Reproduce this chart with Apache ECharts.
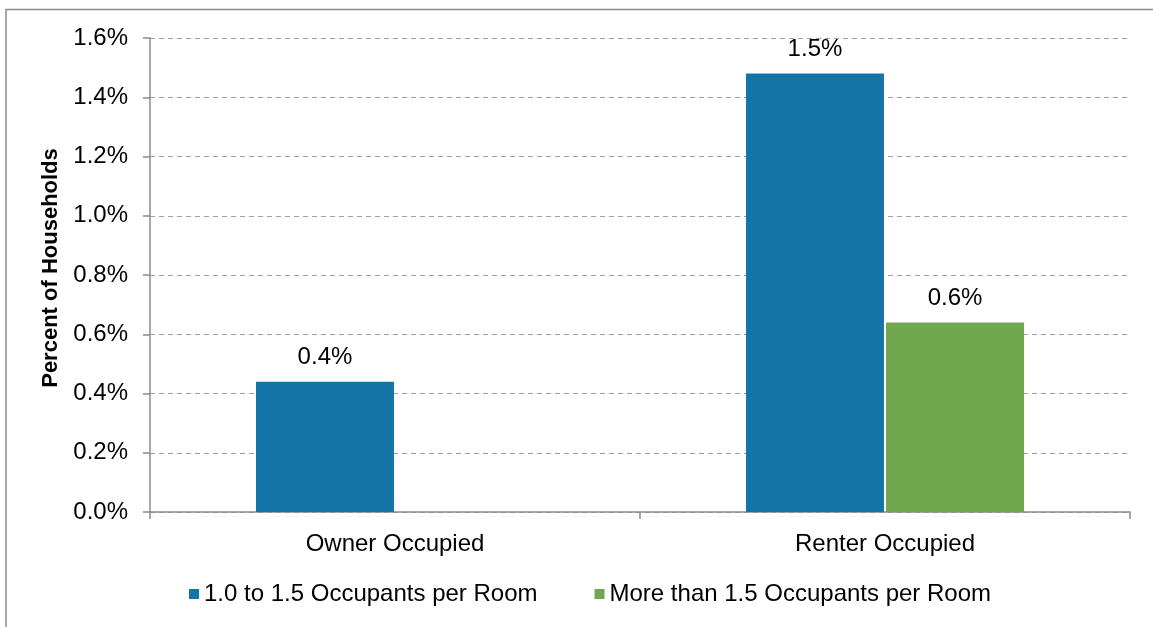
<!DOCTYPE html>
<html>
<head>
<meta charset="utf-8">
<script src="https://cdn.jsdelivr.net/npm/echarts@6/dist/echarts.min.js"></script>
<style>
html, body { margin: 0; padding: 0; background: #fff; }
#chart { width: 1153px; height: 627px; }
</style>
</head>
<body>
<div id="chart"></div>
<script>
// categories and values (percent of households)
var categories = ["Owner Occupied", "Renter Occupied"];
var seriesNames = ["1.0 to 1.5 Occupants per Room", "More than 1.5 Occupants per Room"];
var moderate = [0.44, 1.48];
var severe = [null, 0.64];

var font = "'Liberation Sans', Arial, sans-serif";

function pct(v) {
  return v.toFixed(1) + "%";
}

var chart = echarts.init(document.getElementById("chart"));

var option = {
  animation: false,
  textStyle: { fontFamily: font },
  graphic: [
    {
      type: "rect",
      shape: { x: 6, y: 9.5, width: 1300, height: 800 },
      style: { fill: null, stroke: "#8c8c8c", lineWidth: 1.5 },
      silent: true
    }
  ],
  grid: {
    left: 150,
    right: 23,
    top: 38,
    bottom: 115
  },
  legend: {
    data: seriesNames,
    left: 184,
    top: 577,
    icon: "rect",
    itemWidth: 10,
    itemHeight: 10,
    itemGap: 57,
    textStyle: { fontFamily: font, fontSize: 24, color: "#000" }
  },
  xAxis: {
    type: "category",
    data: categories,
    boundaryGap: true,
    axisLine: { lineStyle: { color: "#8c8c8c", width: 1.5 } },
    axisTick: { show: true, alignWithLabel: false, length: 7, lineStyle: { color: "#8c8c8c", width: 1.5 } },
    axisLabel: { margin: 20, fontFamily: font, fontSize: 24, color: "#000" },
    splitLine: { show: false }
  },
  yAxis: {
    type: "value",
    min: 0,
    max: 1.6,
    interval: 0.2,
    name: "Percent of Households",
    nameLocation: "middle",
    nameGap: 86,
    nameRotate: 90,
    nameTextStyle: { fontFamily: font, fontSize: 22, fontWeight: "bold", color: "#000", padding: [0, 0, 0, 14] },
    axisLine: { show: true, lineStyle: { color: "#8c8c8c", width: 1.5 } },
    axisTick: { show: true, inside: false, length: 7, lineStyle: { color: "#8c8c8c", width: 1.5 } },
    axisLabel: { margin: 22, fontFamily: font, fontSize: 24, color: "#000", formatter: pct },
    splitLine: { show: true, lineStyle: { color: "#a0a0a0", width: 1, type: [5, 4] } }
  },
  series: [
    {
      name: seriesNames[0],
      type: "bar",
      data: moderate,
      barWidth: 138,
      barGap: "1.5%",
      itemStyle: { color: "#1474a8" },
      label: {
        show: true,
        position: "top",
        distance: 12,
        fontFamily: font,
        fontSize: 24,
        color: "#000",
        formatter: function (p) { return p.value == null ? "" : pct(p.value); }
      }
    },
    {
      name: seriesNames[1],
      type: "bar",
      data: severe,
      barWidth: 138,
      barGap: "1.5%",
      itemStyle: { color: "#71a84f" },
      label: {
        show: true,
        position: "top",
        distance: 12,
        fontFamily: font,
        fontSize: 24,
        color: "#000",
        formatter: function (p) { return p.value == null ? "" : pct(p.value); }
      }
    }
  ]
};

chart.setOption(option);
</script>
</body>
</html>
